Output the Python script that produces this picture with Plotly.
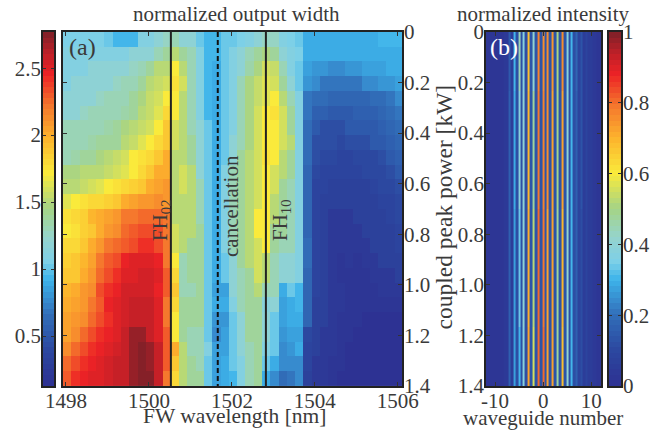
import numpy as np
import plotly.graph_objects as go

# ---------- data ----------
# panel (a): normalized output width x10, rows top (0 kW) to bottom (1.4 kW), 41 wavelength columns
width_x10 = [
 [10.5,10.5,10.5,10.5,10.5,10,9.5,9.5,9.5,11,11,12,12.5, 13,12,12,10,9.5,9.5,10,10,10.5,11,12, 12.5,12.5,11,10.5,10, 9,9,9,9,9,9,9,9,9,9.5,9.5,9.5],
 [11,11,11,11,11,11,11,11,12,12,12,13,14, 15,14,13,11,9.5,9.5,10,11,12,13,14, 14.5,14,12,11,10.5, 9,8.8,8.8,8.8,8.8,8.8,8.8,8.8,8.8,8.8,9,9],
 [11,11,11,12,12,12,12,12,12.5,13,14,15,15, 17,15,13,11,9.5,9,10,11,12,13.5,14.5, 16,15.5,13,11,10, 8.5,8,8,7.5,7.5,8,8,8.5,8.5,8.5,9,9],
 [11,12,12,12,12,12,12.5,13,13,14,15,15.5,16, 17.5,16,13,11,9.5,9,10,11,13,14.5,15.5, 16.5,16,14,12,10, 8,7.5,7,7,7,7,7,7.5,7.5,8,8,8.5],
 [12,12,12,12,12.5,13,13,13,14,14.5,15.5,16,17, 17,15,13,11,9.5,9,10,11,13,14.5,15.5, 16.5,17,15,13,11, 7,6.5,6.5,6,6,6,6,6,6.5,6.5,7,7.5],
 [12,12,12.5,13,13,13,13,13.5,14,15,15.5,16.5,18, 17,15,13,11,9.5,9,10,11,13,14.5,16, 17,17.5,16,14,11, 7,5.5,5.5,5,5,5,5.5,5.5,5.5,6,6.5,7],
 [13,13,13,13,13,13.5,14,14.5,15,15.5,16,17,19, 16,15,13,12,10,9,10,11,13,14.5,16, 17,17,16,14,11, 6.5,5,4.5,4.5,4.5,5,5,5,5,5.5,6,6.5],
 [13,13,13,13.5,14,14,14,15,15.5,16.5,17,18,19, 16,15,14,12,10,9,10,12,13,14.5,16, 17,17,16,15,11, 6.5,4.5,4.5,4.5,4,4.5,4.5,4.5,5,5,5.5,6],
 [13,13.5,14,14,14.5,15,15.5,16,17,17.5,18,19,20, 15,15,14,12,10,9,10,12,14,15,16, 17.5,17,15,14,11, 6.5,4.5,4,4,3.5,3.5,4,4,4,4.5,5,5.5],
 [14.5,14.5,15,15,15,15.5,16,16.5,17,18,19,20,20, 15,16,15,12,10,9,11,13,14,15,16, 17,16,15,14,11, 6,4,3.5,3.5,3.5,3.5,3.5,4,4,4,4.5,5],
 [15,15,15.5,16,16.5,17,17.5,18,18.5,19,20,20.5,21, 15,16,15,13,10,9,11,13,14,15,16, 17,16,14,13,11, 6,3.5,3.5,3,3,3,3,3,3.5,4,4,4.5],
 [16.5,17,17.5,18,18,18.5,19,20,20.5,21,21,21.5,21, 15,15,15,13,10,9,11,13,14,15,16, 17,15,14,13,11, 6,3.5,3,3,3,3,3,3,3,3.5,3.5,4],
 [17.5,18,18.5,19.5,20,20.5,21,22,22,22.5,22.5,22.5,22, 15,15,15,13,10,9,11,13,14,15,17, 17,15,14,13,11, 6,3.5,3,2.5,2.5,2.5,3,3,3,3,3.5,4],
 [17,17.5,18.5,19,20,21,21.5,22.5,23,23.5,23.5,23.5,22, 16,15,15,14,10,9,11,13,14,15,17, 17,14,14,13,11, 6,3.5,3,2.5,2.5,2.5,2.5,3,3,3,3,3.5],
 [18,18,19,20,21,22,22.5,23,23.5,24,24,23.5,22, 16,15,14,14,10,9,11,13,14,15,16, 17,14,13,13,11, 6.5,3.5,3,2.5,2.5,2.5,2.5,2.5,3,3,3,3.5],
 [18.5,19,19.5,20.5,22,23,23.5,24.5,25,25,25,24.5,22, 17,13,14,14,10,9,10,12,14,15,16, 15,13,12,12,11, 6.5,3.5,3,2.5,2,2.5,2,2.5,2.5,3,3,3],
 [19,19,20,21,22.5,23.5,24,25,25,25.5,25.5,25,23, 18,13,14,14,10,9,10,12,13,14,16, 15,13,12,12,11, 6,3.5,3,2.5,2,2,2,2,2.5,2.5,2.5,3],
 [19.5,20,21,21.5,23.5,24,24.5,25.5,25.5,25.5,25.5,24.5,23, 19,13,13,14,10,8.5,8.5,12,13,14,15, 13,13,9,10,9.5, 6,3.5,3,2.5,2.5,2,2,2,2,2.5,2.5,2.5],
 [20,20.5,21,22,23,24.5,25,25.5,26,26,26,25,22, 18,14,14,14,10,9,9,11,13,14,14, 11.5,12,8.5,9,9.5, 6,3,3,2.5,2.5,2,2,2,2,2,2,2],
 [20.5,21,21.5,22.5,23.5,24,25,25.5,26,26,26,25,22, 17,14,14,14,10,8,8,10,12,14,14, 12,10,8.5,9,9, 6,3,3,2.5,2,2,2,1.5,1.5,1.5,1.5,1.5],
 [20.5,21.5,22.5,23.5,24,24.5,25,26,27,27,26,25,23, 17,14,13,13,10,7.5,8.5,10,12,14,14, 12,10,8,8.5,8.5, 4,3,2.5,2.5,2,2,1.5,1.5,1.5,1.5,1.5,1.5],
 [21.5,22.5,23.5,24,24.5,25,25.5,26,27,27.5,27,26,23, 20,15,13,13,11,8.5,8.5,10,12,13,14, 11,10,7.5,8,9, 3.5,3,2.5,2.5,2,1.5,1.5,1.5,1.5,1.5,1.5,1.5],
 [22.5,23.5,24,24.5,25,25.5,26,26,27,28,27,26,23, 19,15,14,13,10,8.5,9,10,11,13,14, 10,9,7.5,7.5,7.5, 3.5,2.5,2.5,2,2,1.5,1.5,1,1,1,1,1],
 [23,24,24.5,25,25,25.5,26,26,27,28,28,26,22, 18,15,14,14,10,8.5,9,9.5,11,13,14, 9,7.5,6.5,7,7.5, 3,2.5,2.5,2,1.5,1.5,1,1,1,1,1,1],
]
line_fh02 = 1500.53
line_cancel = 1501.66
line_fh10 = 1502.82

# panel (b): intensity peak per waveguide (-12..12) at four powers, and the troughs between them
peaks_b = [
 [.03,.03,.03,.03,.04,.15,.30,.45,.38,.68,.42,.77,.76,.76,.74,.50,.76,.38,.30,.18,.13,.08,.05,.04,.03],
 [.03,.03,.03,.03,.04,.16,.29,.38,.40,.70,.48,.79,.78,.75,.73,.49,.73,.40,.30,.17,.13,.08,.05,.04,.03],
 [.03,.03,.03,.03,.04,.17,.28,.33,.40,.71,.52,.80,.79,.73,.72,.48,.70,.42,.30,.17,.12,.08,.05,.04,.03],
 [.03,.03,.03,.03,.04,.17,.28,.30,.38,.72,.55,.80,.80,.72,.72,.48,.68,.42,.30,.17,.12,.08,.05,.04,.03],
]
troughs_b = [.03,.03,.03,.03,.04,.06,.11,.12,.12,.13,.13,.13,.13,.13,.13,.13,.13,.12,.11,.08,.06,.05,.04,.03]
waveguides = list(range(-12, 13))
y_edges_b = [0.0, 0.235, 0.7, 1.165, 1.4]

tick_a = [1498, 1500, 1502, 1504, 1506]
tick_power = [0, 0.2, 0.4, 0.6, 0.8, 1.0, 1.2, 1.4]
text_power = ["0", "0.2", "0.4", "0.6", "0.8", "1.0", "1.2", "1.4"]
tick_width = [0.5, 1, 1.5, 2, 2.5]
tick_norm = [0, 0.2, 0.4, 0.6, 0.8, 1]
range_width = [0.127, 2.77]
range_norm = [0, 1]

# ---------- style ----------
W, H = 671, 432
INK = "#3a3a3a"
FONT = "Liberation Serif"
anchors = [(0, (46, 49, 146)), (.1, (44, 72, 160)), (.2, (50, 110, 185)), (.3, (62, 180, 235)),
           (.35, (125, 208, 232)), (.42, (150, 212, 205)), (.5, (165, 212, 135)), (.6, (250, 235, 60)),
           (.7, (253, 180, 45)), (.79, (245, 120, 45)), (.88, (237, 35, 38)), (.94, (190, 32, 40)), (1, (125, 32, 40))]
pos = [a[0] for a in anchors]
def level(t):
    return "rgb(%d,%d,%d)" % tuple(np.interp(t, pos, [a[1][c] for a in anchors]) for c in range(3))
cscale = []
for k in range(64):
    c = level((k + .5) / 64)
    cscale += [[k / 64, c], [(k + 1) / 64, c]]

def px(x): return x / W
def py(y): return 1 - y / H

Z_A = np.array(width_x10) / 10
Z_B = []
for row in peaks_b:
    merged = []
    for i, p in enumerate(row):
        merged.append(p)
        if i < len(troughs_b):
            merged.append(troughs_b[i])
    Z_B.append(merged)
# cell edges along the waveguide axis: a narrow cell on each waveguide, the wider trough between
HALF = 0.21
edges_b = []
for n in waveguides:
    edges_b += [n - HALF, n + HALF]

def ramp(lo, hi, xaxis, yaxis):
    """Colour-bar strip: the 64 colour levels of the scale, on its own value axis."""
    step = (hi - lo) / 64
    levels = [[lo + (k + .5) * step] for k in range(64)]
    return go.Heatmap(z=levels, x0=0, dx=1, y0=lo + step / 2, dy=step, xaxis=xaxis, yaxis=yaxis,
                      colorscale=cscale, zmin=lo, zmax=hi, showscale=False, hoverinfo="skip")

fig = go.Figure()
fig.add_trace(go.Heatmap(z=Z_A, x0=1498.03, dx=0.2, y0=0.029, dy=0.0583, xaxis="x", yaxis="y",
                         colorscale=cscale, zmin=range_width[0], zmax=range_width[1], showscale=False))
fig.add_trace(go.Heatmap(z=Z_B, x=edges_b, y=y_edges_b, xaxis="x2", yaxis="y2",
                         colorscale=cscale, zmin=0, zmax=1, showscale=False))
fig.add_trace(ramp(range_width[0], range_width[1], "x3", "y3"))
fig.add_trace(ramp(range_norm[0], range_norm[1], "x4", "y4"))

common = dict(showgrid=False, zeroline=False, showline=True, linecolor="#222", linewidth=1.5, mirror="ticks",
              ticks="inside", ticklen=4, tickcolor="#333", tickfont=dict(family=FONT, size=21, color=INK),
              automargin=False)
x_common = dict(common, ticklabelstandoff=-5)
y_common = dict(common, ticklabelstandoff=-4)
bar_x = dict(showticklabels=False, ticks="", showgrid=False, zeroline=False, showline=True, mirror=True,
             linecolor="#222", linewidth=1.5, range=[-.5, .5])
bar_y = dict(y_common, ticklen=3)

fig.update_layout(
    width=W, height=H, autosize=False, margin=dict(l=0, r=0, t=0, b=0, pad=0), showlegend=False,
    paper_bgcolor="white", plot_bgcolor="white",
    xaxis=dict(domain=[px(63), px(402)], range=[1497.93, 1506.1], tickvals=tick_a, anchor="y", **x_common),
    yaxis=dict(domain=[py(386), py(32)], range=[1.4, 0], side="right", anchor="x", tickvals=tick_power,
               ticktext=text_power, **y_common),
    xaxis2=dict(domain=[px(486), px(601)], range=[-11.9, 12.05], tickvals=[-10, 0, 10], ticktext=["-10", "0", "10"], anchor="y2", **x_common),
    yaxis2=dict(domain=[py(386), py(32)], range=[1.4, 0], side="left", anchor="x2", tickvals=tick_power,
                ticktext=text_power, **y_common),
    xaxis3=dict(domain=[px(43), px(54)], anchor="y3", **bar_x),
    yaxis3=dict(domain=[py(386), py(32)], range=range_width, anchor="x3", side="left", tickvals=tick_width,
                ticktext=[str(t) for t in tick_width], **bar_y),
    xaxis4=dict(domain=[px(609), px(621)], anchor="y4", **bar_x),
    yaxis4=dict(domain=[py(386), py(32)], range=range_norm, anchor="x4", side="right", tickvals=tick_norm,
                ticktext=[str(t) for t in tick_norm], **bar_y),
    shapes=[
        dict(type="line", xref="x", yref="y", x0=line_fh02, x1=line_fh02, y0=0, y1=1.4, line=dict(color="#222", width=2)),
        dict(type="line", xref="x", yref="y", x0=line_fh10, x1=line_fh10, y0=0, y1=1.4, line=dict(color="#222", width=2)),
        dict(type="line", xref="x", yref="y", x0=line_cancel, x1=line_cancel, y0=0, y1=1.4, line=dict(color="#111", width=2, dash="5px,3px")),
    ],
)

def note(text, x, y, size=21, color=INK, angle=0):
    fig.add_annotation(text=text, x=px(x), y=py(y), xref="paper", yref="paper", showarrow=False,
                       textangle=angle, font=dict(family=FONT, size=size, color=color), xanchor="center", yanchor="middle")

note("normalized output width", 236, 14)
note("normalized intensity", 543, 14)
note("FW wavelength [nm]", 235, 416, size=21.5)
note("waveguide number", 543, 418)
note("coupled peak power [kW]", 443, 207.5, size=23.5, angle=-90)
note("(a)", 82, 47, size=24)
note("(b)", 504, 47, size=24, color="white")
note("FH<sub>02</sub>", 161, 220, angle=-90)
note("cancellation", 231, 206, angle=-90)
note("FH<sub>10</sub>", 281, 220, angle=-90)

fig.write_html("out.html", config=dict(displayModeBar=False),
               post_script="document.body.style.margin='0';document.body.style.overflow='hidden';")
